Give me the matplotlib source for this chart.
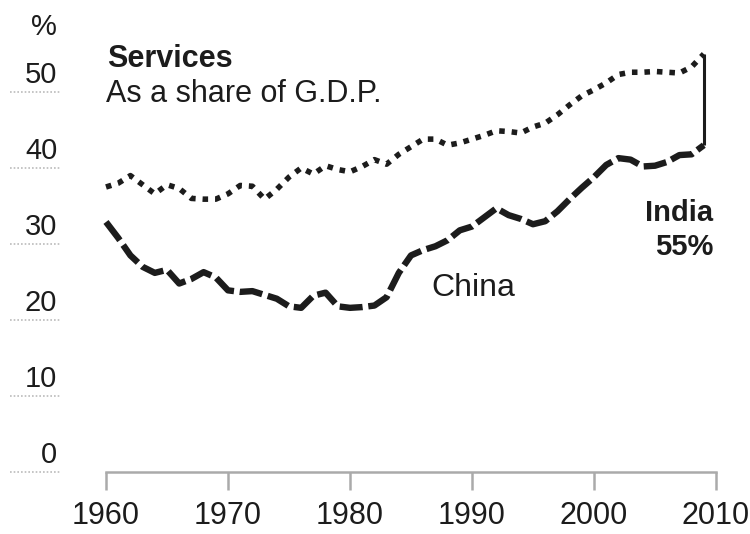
import matplotlib
matplotlib.use("Agg")
import matplotlib.pyplot as plt
import matplotlib.transforms as mtransforms

plt.rcParams['font.family'] = ['Liberation Sans', 'DejaVu Sans']

years = list(range(1960, 2010))

india = [37.5, 38.0, 39.0, 37.8, 36.6, 37.8, 37.3, 36.0, 35.9, 35.9,
         36.6, 37.7, 37.6, 35.9, 37.2, 38.8, 40.0, 39.2, 40.3, 39.8,
         39.5, 40.2, 41.1, 40.5, 41.8, 42.8, 43.8, 43.8, 43.0, 43.3,
         43.8, 44.3, 44.9, 44.8, 44.6, 45.4, 45.9, 47.0, 48.3, 49.5,
         50.3, 51.2, 52.3, 52.6, 52.6, 52.7, 52.6, 52.5, 53.3, 55.0]

china = [32.9, 30.8, 28.5, 27.0, 26.2, 26.6, 24.8, 25.4, 26.3, 25.6,
         23.9, 23.7, 23.8, 23.3, 22.8, 21.8, 21.6, 23.2, 23.6, 21.8,
         21.6, 21.7, 21.9, 23.0, 26.2, 28.5, 29.2, 29.7, 30.5, 31.8,
         32.3, 33.5, 34.7, 33.8, 33.3, 32.6, 33.0, 34.3, 35.9, 37.4,
         38.8, 40.4, 41.3, 41.1, 40.2, 40.3, 40.8, 41.7, 41.8, 43.0]

y_ticks = [0, 10, 20, 30, 40, 50]
x_ticks = [1960, 1970, 1980, 1990, 2000, 2010]

ink = '#1c1c1c'
grey = '#aaaaaa'

fig = plt.figure(figsize=(7.5, 5.34), dpi=100)
ax = fig.add_axes([106 / 750, 62 / 534, 610 / 750, 456 / 534])
ax.set_xlim(1960, 2010)
ax.set_ylim(0, 60)

# India: dotted line
ax.plot(years, india, color=ink, lw=4.0, linestyle=(0, (1.0, 1.25)),
        dash_capstyle='butt', solid_joinstyle='round', clip_on=False)
# China: dashed line
ax.plot(years, china, color=ink, lw=4.6, linestyle=(0, (3.6, 0.9)),
        dash_capstyle='butt', solid_joinstyle='round', clip_on=False)

# connector between the two end values
ax.plot([years[-1], years[-1]], [china[-1], india[-1]], color=ink, lw=2.2,
        solid_capstyle='butt', clip_on=False)

for s in ['top', 'right', 'left']:
    ax.spines[s].set_visible(False)
ax.spines['bottom'].set_color(grey)
ax.spines['bottom'].set_linewidth(1.8)

ax.set_xticks(x_ticks)
ax.set_xticklabels([str(t) for t in x_ticks], fontsize=22, color=ink)
ax.tick_params(axis='x', length=13, width=1.8, color=grey, pad=8)
ax.set_yticks([])

# short dotted guide lines and labels to the left of the plot
tr = mtransforms.blended_transform_factory(ax.transAxes, ax.transData)
for v in y_ticks:
    ax.plot([-0.157, -0.075], [v, v], transform=tr, color='#bbbbbb', lw=1.2,
            linestyle=(0, (1, 1.2)), clip_on=False)
    ax.text(-0.08, v + 1.2, str(v), transform=tr, ha='right', va='baseline',
            fontsize=21, color=ink)
ax.text(-0.08, 57.5, '%', transform=tr, ha='right', va='baseline',
        fontsize=21, color=ink)

ax.text(1960.1, 54.4, 'Services', fontsize=22, fontweight='bold',
        color=ink, ha='left', va='center')
ax.text(1960.0, 49.8, 'As a share of G.D.P.', fontsize=22,
        color=ink, ha='left', va='center')

ax.text(2009.8, 34.1, 'India', fontsize=21, fontweight='bold',
        color=ink, ha='right', va='center')
ax.text(2009.8, 29.6, '55%', fontsize=21, fontweight='bold',
        color=ink, ha='right', va='center')
ax.text(1986.7, 24.2, 'China', fontsize=23, color=ink,
        ha='left', va='center')

fig.savefig('out.png', dpi=100)
